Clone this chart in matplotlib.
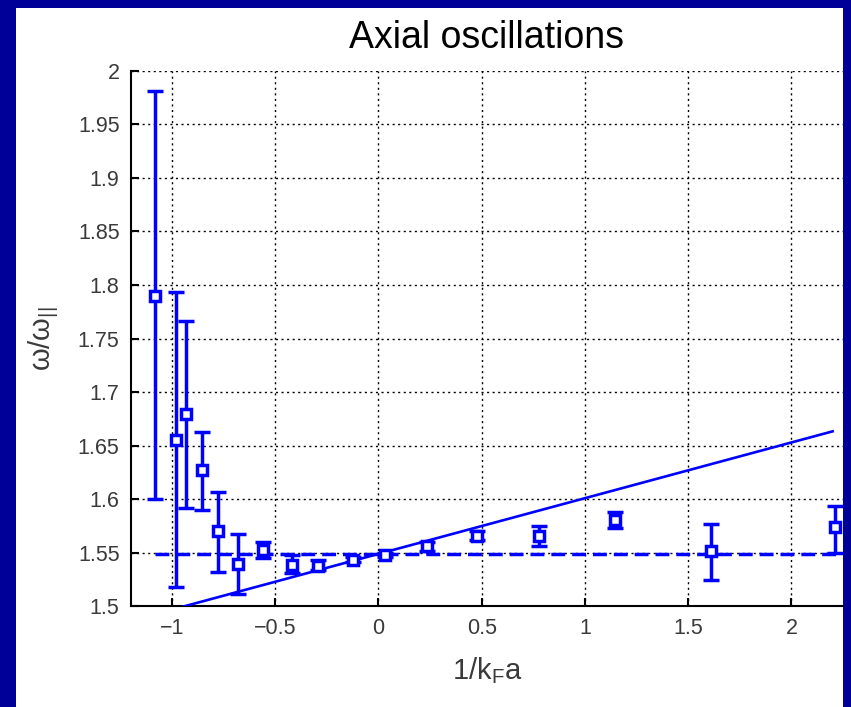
import numpy as np
import matplotlib
matplotlib.use('Agg')
import matplotlib.pyplot as plt
from matplotlib.patches import Rectangle

# =====================================================================
# DATA
# =====================================================================
inv_kfa = [-1.08, -0.98, -0.93, -0.855, -0.775, -0.68, -0.56, -0.42,
           -0.295, -0.125, 0.03, 0.235, 0.475, 0.78, 1.145, 1.61, 2.21]
omega_ratio = [1.790, 1.655, 1.680, 1.627, 1.570, 1.540, 1.553, 1.539,
               1.538, 1.543, 1.548, 1.556, 1.566, 1.566, 1.581, 1.552, 1.574]
err_low = [1.600, 1.518, 1.592, 1.590, 1.532, 1.512, 1.545, 1.531,
           1.534, 1.541, 1.546, 1.552, 1.562, 1.556, 1.573, 1.525, 1.550]
err_high = [1.981, 1.793, 1.766, 1.663, 1.607, 1.568, 1.560, 1.548,
            1.543, 1.546, 1.550, 1.560, 1.570, 1.575, 1.588, 1.577, 1.594]

# theory lines
unitary_value = 1.549
line_x = [-1.2, 2.2]
line_slope = 0.052
dash_x = [-1.08, 2.25]

x_ticks = [-1, -0.5, 0, 0.5, 1, 1.5, 2]
y_ticks = [1.5, 1.55, 1.6, 1.65, 1.7, 1.75, 1.8, 1.85, 1.9, 1.95, 2.0]

BLUE = '#0000ff'
NAVY = '#000099'
GREY = '#3a3a3a'

plt.rcParams['font.family'] = ['Liberation Sans', 'DejaVu Sans']
plt.rcParams['mathtext.fontset'] = 'custom'
plt.rcParams['mathtext.rm'] = 'Liberation Sans'

fig = plt.figure(figsize=(8.51, 7.07), dpi=100, facecolor=NAVY)
# white slide area (behind the axes)
fig.patches.append(Rectangle((16 / 851, 0), (843 - 16) / 851, 1 - 8 / 707,
                             transform=fig.transFigure, facecolor='white',
                             edgecolor='none', zorder=-10))

ax = fig.add_axes([130.7 / 851, 1 - 606.4 / 707, (843 - 130.7) / 851, (606.4 - 70.7) / 707])
ax.set_zorder(5)
ax.set_facecolor('white')

y = np.array(omega_ratio)
lo = y - np.array(err_low)
hi = np.array(err_high) - y

# solid theory line
lx = np.array(line_x)
ax.plot(lx, unitary_value + line_slope * lx, '-', color=BLUE, lw=1.9, zorder=3)
# dashed unitarity value
ax.plot(dash_x, [unitary_value, unitary_value], '--', color=BLUE, lw=2.5,
        dashes=(4, 2), zorder=3)

ax.errorbar(inv_kfa, y, yerr=[lo, hi], fmt='s', color=BLUE, ecolor=BLUE,
            elinewidth=2.5, capsize=6, capthick=2.5, markersize=7,
            markerfacecolor='white', markeredgewidth=2.5, zorder=4)

ax.set_xlim(-1.2, 2.25)
ax.set_ylim(1.5, 2.0)
ax.set_xticks(x_ticks)
ax.set_xticklabels(['\u22121', '\u22120.5', '0', '0.5', '1', '1.5', '2'])
ax.set_yticks(y_ticks)
ax.set_yticklabels(['1.5', '1.55', '1.6', '1.65', '1.7', '1.75', '1.8',
                    '1.85', '1.9', '1.95', '2'])

ax.grid(True, color='black', linestyle=(0, (1.5, 2.5)), linewidth=1.0)
ax.set_axisbelow(True)
ax.spines['top'].set_visible(False)
ax.spines['right'].set_visible(False)
ax.spines['left'].set_linewidth(1.5)
ax.spines['bottom'].set_linewidth(1.5)
ax.tick_params(direction='in', length=6, width=1.5, labelsize=15.5,
               labelcolor=GREY, pad=8)

ax.set_title('Axial oscillations', fontsize=27, color='black', pad=16)
ax.set_xlabel('1/k$_\\mathregular{F}$a', fontsize=21, color=GREY, labelpad=12)
ax.set_ylabel('\u03c9/\u03c9$_\\mathregular{||}$', fontsize=21, color=GREY, labelpad=12)

fig.savefig('out.png', dpi=100, facecolor=NAVY)
